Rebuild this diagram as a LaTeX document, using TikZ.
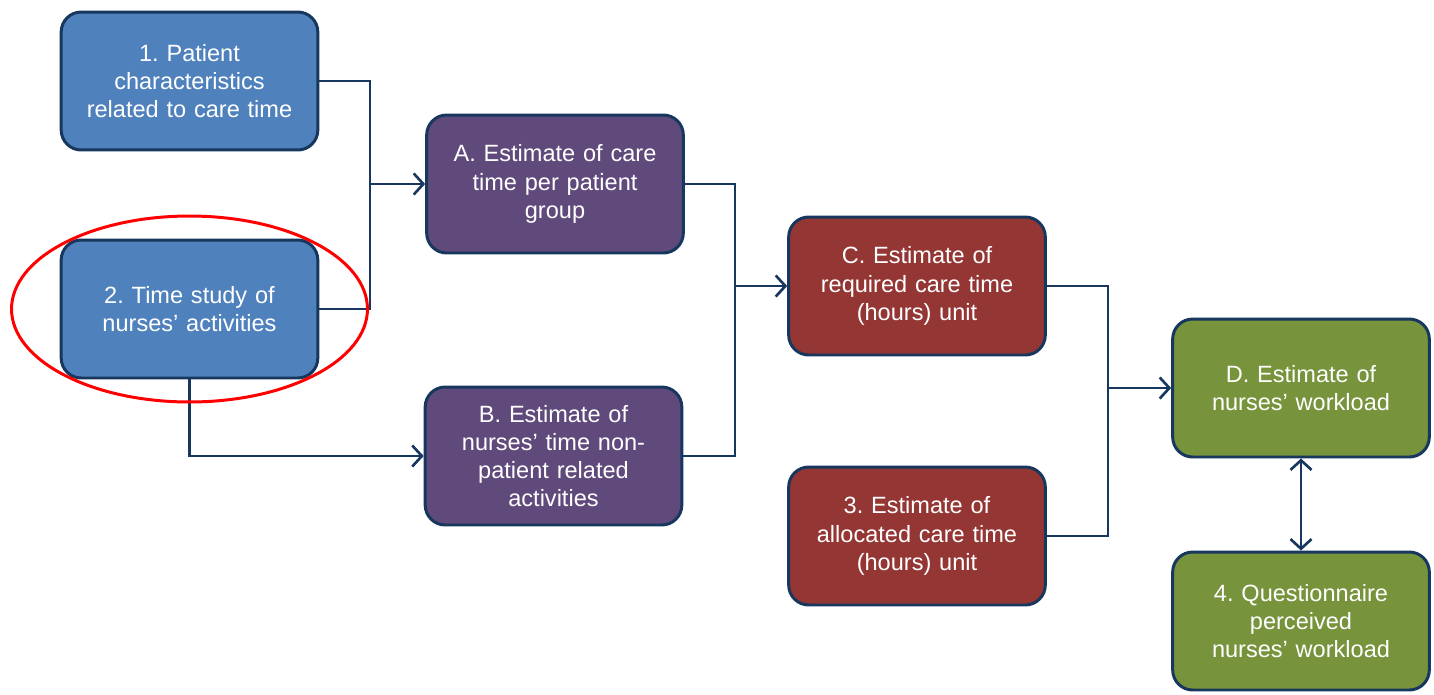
\documentclass[tikz,border=0pt]{standalone}
\usepackage{fontspec}
\setmainfont{Liberation Sans}
\usepackage{xcolor}
\usetikzlibrary{arrows.meta}

\definecolor{boxblue}{HTML}{4F81BD}
\definecolor{boxpurple}{HTML}{604A7B}
\definecolor{boxred}{HTML}{943634}
\definecolor{boxgreen}{HTML}{77933C}
\definecolor{edgenavy}{HTML}{17375E}

\tikzset{
  stage/.style={draw=edgenavy, line width=1.7pt, rounded corners=0.4cm,
    minimum width=4.99cm, minimum height=2.76cm, text width=4.9cm,
    align=center, text=white, font=\fontsize{13.4}{16}\selectfont\frenchspacing},
  link/.style={draw=edgenavy, line width=1.5pt},
  barb/.tip={Straight Barb[length=5.5pt,width=12pt,line width=1.5pt]},
  tip/.style={-barb}
}

\begin{document}
\begin{tikzpicture}[x=0.02cm,y=-0.02cm]
\useasboundingbox (0,0) rectangle (1434,694);
% input boxes
\node[stage, fill=boxblue] (p1) at (189.5,81) {1. Patient\\ characteristics\\ related to care time};
\node[stage, fill=boxblue] (p2) at (189.5,309) {2. Time study of\\ nurses' activities};
% estimates
\node[stage, fill=boxpurple] (eA) at (555,184) {A. Estimate of care\\ time per patient\\ group};
\node[stage, fill=boxpurple] (eB) at (553.5,456) {B. Estimate of\\ nurses' time non-\\ patient related\\ activities};
\node[stage, fill=boxred] (eC) at (917,286) {C. Estimate of\\ required care time\\ (hours) unit};
\node[stage, fill=boxred] (p3) at (917,536) {3. Estimate of\\ allocated care time\\ (hours) unit};
\node[stage, fill=boxgreen] (eD) at (1301,388) {D. Estimate of\\ nurses' workload};
\node[stage, fill=boxgreen] (p4) at (1301,621) {4. Questionnaire\\ perceived\\ nurses' workload};
% junctions
\coordinate (j1) at (370,184);
\coordinate (j2) at (735,286);
\coordinate (j3) at (1108,388);
% connectors
\draw[link] (p1.east) -| (j1) |- (p2.east);
\draw[link, tip] (j1) -- (eA.west);
\draw[link, tip] (p2.south) |- (eB.west);
\draw[link] (eA.east) -| (j2) |- (eB.east);
\draw[link, tip] (j2) -- (eC.west);
\draw[link] (eC.east) -| (j3) |- (p3.east);
\draw[link, tip] (j3) -- (eD.west);
\draw[link, barb-barb] (eD.south) -- (p4.north);
% highlight
\draw[red, line width=1.7pt] (p2.center) ellipse [x radius=3.56cm, y radius=1.86cm];
\end{tikzpicture}
\end{document}
